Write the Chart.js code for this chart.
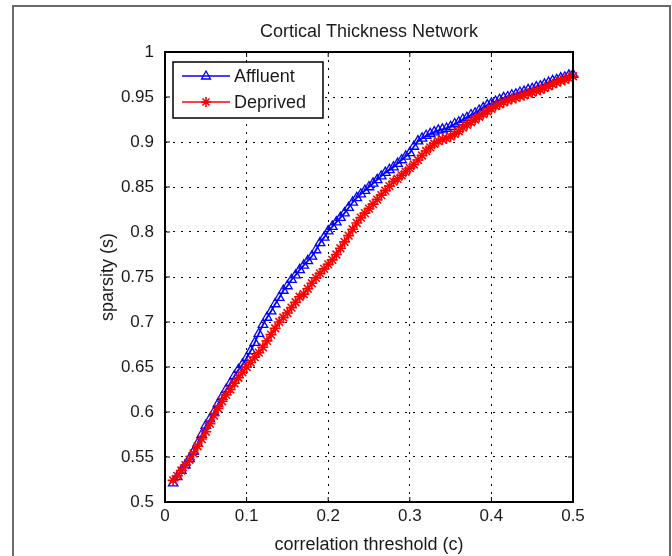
<!DOCTYPE html>
<html>
<head>
<meta charset="utf-8">
<script src="https://cdn.jsdelivr.net/npm/chart.js@4.4.1/dist/chart.umd.min.js"></script>
<style>
  html, body { margin: 0; padding: 0; background: #fff; }
  #wrap { width: 672px; height: 556px; }
</style>
</head>
<body>
<div id="wrap"><canvas id="sparsityChart"></canvas></div>
<script>
// correlation threshold (c)
const thresholds = [
  0.010, 0.015, 0.020, 0.025, 0.030, 0.035, 0.040, 0.045, 0.050, 0.055,
  0.060, 0.065, 0.070, 0.075, 0.080, 0.085, 0.090, 0.095, 0.100, 0.105,
  0.110, 0.115, 0.120, 0.125, 0.130, 0.135, 0.140, 0.145, 0.150, 0.155,
  0.160, 0.165, 0.170, 0.175, 0.180, 0.185, 0.190, 0.195, 0.200, 0.205,
  0.210, 0.215, 0.220, 0.225, 0.230, 0.235, 0.240, 0.245, 0.250, 0.255,
  0.260, 0.265, 0.270, 0.275, 0.280, 0.285, 0.290, 0.295, 0.300, 0.305,
  0.310, 0.315, 0.320, 0.325, 0.330, 0.335, 0.340, 0.345, 0.350, 0.355,
  0.360, 0.365, 0.370, 0.375, 0.380, 0.385, 0.390, 0.395, 0.400, 0.405,
  0.410, 0.415, 0.420, 0.425, 0.430, 0.435, 0.440, 0.445, 0.450, 0.455,
  0.460, 0.465, 0.470, 0.475, 0.480, 0.485, 0.490, 0.495, 0.500
];

// sparsity (s)
const affluent = [
  0.521, 0.528, 0.535, 0.541, 0.548, 0.556, 0.565, 0.575, 0.585, 0.592,
  0.600, 0.609, 0.617, 0.625, 0.632, 0.640, 0.647, 0.653, 0.660, 0.668,
  0.677, 0.687, 0.697, 0.705, 0.712, 0.720, 0.727, 0.735, 0.740, 0.747,
  0.752, 0.758, 0.763, 0.768, 0.773, 0.780, 0.788, 0.794, 0.801, 0.806,
  0.811, 0.816, 0.821, 0.827, 0.833, 0.838, 0.842, 0.846, 0.850, 0.854,
  0.858, 0.862, 0.866, 0.869, 0.872, 0.876, 0.880, 0.884, 0.888, 0.895,
  0.901, 0.904, 0.907, 0.909, 0.911, 0.913, 0.914, 0.915, 0.917, 0.920,
  0.922, 0.925, 0.927, 0.930, 0.932, 0.935, 0.938, 0.941, 0.943, 0.945,
  0.947, 0.949, 0.950, 0.952, 0.953, 0.955, 0.956, 0.958, 0.959, 0.961,
  0.962, 0.964, 0.966, 0.968, 0.969, 0.971, 0.972, 0.974, 0.975
];

const deprived = [
  0.524, 0.529, 0.535, 0.541, 0.547, 0.554, 0.562, 0.570, 0.578, 0.587,
  0.596, 0.604, 0.612, 0.619, 0.625, 0.632, 0.638, 0.644, 0.650, 0.655,
  0.661, 0.666, 0.672, 0.679, 0.686, 0.693, 0.700, 0.705, 0.710, 0.716,
  0.722, 0.728, 0.731, 0.737, 0.743, 0.749, 0.754, 0.759, 0.764, 0.769,
  0.775, 0.782, 0.789, 0.796, 0.803, 0.810, 0.816, 0.821, 0.826, 0.831,
  0.836, 0.841, 0.846, 0.851, 0.856, 0.859, 0.863, 0.867, 0.871, 0.875,
  0.880, 0.885, 0.890, 0.894, 0.898, 0.901, 0.903, 0.904, 0.906, 0.909,
  0.912, 0.916, 0.919, 0.922, 0.925, 0.928, 0.931, 0.934, 0.937, 0.940,
  0.942, 0.944, 0.946, 0.948, 0.949, 0.951, 0.952, 0.954, 0.955, 0.957,
  0.958, 0.960, 0.962, 0.964, 0.966, 0.968, 0.969, 0.971, 0.973
];

const xTickLabels = ["0", "0.1", "0.2", "0.3", "0.4", "0.5"];
const yTickLabels = ["0.5", "0.55", "0.6", "0.65", "0.7", "0.75", "0.8", "0.85", "0.9", "0.95", "1"];

const FONT = "'Liberation Sans', Arial, sans-serif";
const TEXT = "#1a1a1a";

// grey frame around the whole figure
const framePlugin = {
  id: "frame",
  beforeDraw(chart) {
    const ctx = chart.ctx;
    ctx.save();
    ctx.fillStyle = "#fff";
    ctx.fillRect(0, 0, chart.width, chart.height);
    ctx.strokeStyle = "#6a6a6a";
    ctx.lineWidth = 2;
    ctx.strokeRect(13, 6, 657, 570);
    ctx.restore();
  }
};

// matlab style box with inward ticks
const boxPlugin = {
  id: "box",
  afterDatasetsDraw(chart) {
    const { ctx, chartArea: a, scales } = chart;
    ctx.save();
    ctx.strokeStyle = "#000";
    ctx.lineWidth = 1;
    ctx.beginPath();
    scales.x.ticks.forEach((t) => {
      const px = scales.x.getPixelForValue(t.value);
      ctx.moveTo(px, a.bottom); ctx.lineTo(px, a.bottom - 5);
      ctx.moveTo(px, a.top); ctx.lineTo(px, a.top + 5);
    });
    scales.y.ticks.forEach((t) => {
      const py = scales.y.getPixelForValue(t.value);
      ctx.moveTo(a.left, py); ctx.lineTo(a.left + 5, py);
      ctx.moveTo(a.right, py); ctx.lineTo(a.right - 5, py);
    });
    ctx.stroke();
    ctx.lineWidth = 2;
    ctx.strokeRect(a.left, a.top, a.right - a.left, a.bottom - a.top);
    ctx.restore();
  }
};

function drawTriangle(ctx, x, y, r) {
  ctx.beginPath();
  ctx.moveTo(x, y - r);
  ctx.lineTo(x + r * 0.9, y + r * 0.6);
  ctx.lineTo(x - r * 0.9, y + r * 0.6);
  ctx.closePath();
  ctx.stroke();
}

function drawStar(ctx, x, y, r) {
  ctx.beginPath();
  for (let i = 0; i < 4; i++) {
    const ang = i * Math.PI / 4;
    ctx.moveTo(x - Math.cos(ang) * r, y - Math.sin(ang) * r);
    ctx.lineTo(x + Math.cos(ang) * r, y + Math.sin(ang) * r);
  }
  ctx.stroke();
}

// legend in a box, top left inside the axes
const legendPlugin = {
  id: "boxLegend",
  afterDraw(chart) {
    const ctx = chart.ctx;
    const a = chart.chartArea;
    const x0 = a.left + 8, y0 = a.top + 10, w = 150, h = 56;
    ctx.save();
    ctx.fillStyle = "#fff";
    ctx.fillRect(x0, y0, w, h);
    ctx.strokeStyle = "#000";
    ctx.lineWidth = 1.5;
    ctx.strokeRect(x0, y0, w, h);
    ctx.font = "18px " + FONT;
    ctx.textBaseline = "middle";
    chart.data.datasets.forEach((ds, i) => {
      const yy = y0 + 14 + i * 26;
      ctx.strokeStyle = ds.borderColor;
      ctx.lineWidth = 1.5;
      ctx.beginPath();
      ctx.moveTo(x0 + 9, yy);
      ctx.lineTo(x0 + 57, yy);
      ctx.stroke();
      ctx.lineWidth = ds.pointBorderWidth;
      if (ds.pointStyle === "triangle") drawTriangle(ctx, x0 + 33, yy, 5);
      else drawStar(ctx, x0 + 33, yy, 5);
      ctx.fillStyle = TEXT;
      ctx.fillText(ds.label, x0 + 61, yy + 1);
    });
    ctx.restore();
  }
};

const ctx = document.getElementById("sparsityChart");

const sparsityChart = new Chart(ctx, {
  type: "line",
  data: {
    labels: thresholds,
    datasets: [
      {
        label: "Affluent",
        data: thresholds.map((c, i) => ({ x: c, y: affluent[i] })),
        borderColor: "#0000ff",
        borderWidth: 1.8,
        pointStyle: "triangle",
        pointRadius: 5.5,
        pointBorderWidth: 1.3,
        pointBorderColor: "#0000ff",
        pointBackgroundColor: "rgba(0,0,0,0)",
        tension: 0,
        order: 1,
        clip: 8
      },
      {
        label: "Deprived",
        data: thresholds.map((c, i) => ({ x: c, y: deprived[i] })),
        borderColor: "#ff0000",
        borderWidth: 1.8,
        pointStyle: "star",
        pointRadius: 5.5,
        pointBorderWidth: 1.6,
        pointBorderColor: "#ff0000",
        pointBackgroundColor: "#ff0000",
        tension: 0,
        order: 0,
        clip: 8
      }
    ]
  },
  options: {
    responsive: true,
    maintainAspectRatio: false,
    animation: false,
    layout: { padding: { left: 0, right: 99, top: 0, bottom: 0 } },
    plugins: {
      legend: { display: false },
      tooltip: { enabled: false },
      title: {
        display: true,
        fullSize: false,
        text: "Cortical Thickness Network",
        color: TEXT,
        font: { family: FONT, size: 18, weight: "normal", lineHeight: 1.2 },
        padding: { top: 21, bottom: 9.4 }
      }
    },
    scales: {
      x: {
        type: "linear",
        min: 0,
        max: 0.5,
        afterFit(scale) { scale.height = 54; },
        ticks: {
          stepSize: 0.1,
          padding: 4,
          color: TEXT,
          font: { family: FONT, size: 17 },
          maxRotation: 0,
          callback: (v, i) => xTickLabels[i]
        },
        grid: { color: "#000", lineWidth: 1, drawTicks: false },
        border: { display: false, dash: [2, 6] },
        title: {
          display: true,
          text: "correlation threshold (c)",
          color: TEXT,
          font: { family: FONT, size: 18, lineHeight: 1.2 },
          padding: { top: 0, bottom: 0 }
        }
      },
      y: {
        type: "linear",
        min: 0.5,
        max: 1,
        afterFit(scale) { scale.width = 165; },
        ticks: {
          stepSize: 0.05,
          padding: 11,
          color: TEXT,
          font: { family: FONT, size: 17 },
          callback: (v, i) => yTickLabels[i]
        },
        grid: { color: "#000", lineWidth: 1, drawTicks: false },
        border: { display: false, dash: [2, 6] },
        title: {
          display: true,
          text: "sparsity (s)",
          color: TEXT,
          font: { family: FONT, size: 18, lineHeight: 1.2 },
          padding: { top: 97, bottom: 0 }
        }
      }
    }
  },
  plugins: [framePlugin, boxPlugin, legendPlugin]
});
</script>
</body>
</html>
